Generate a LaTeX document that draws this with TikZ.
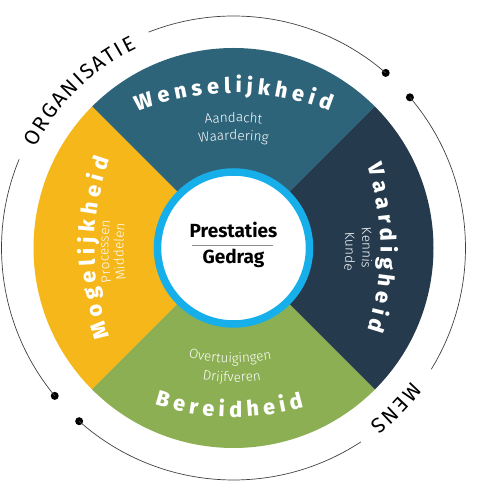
\documentclass[tikz,border=0pt]{standalone}
\usepackage{fontspec}
\setmainfont{Fira Sans}
\newfontfamily\lightfam{Fira Sans Light}
\newfontfamily\heavyfam{Fira Sans ExtraBold}
\usetikzlibrary{decorations.text}
\definecolor{wens-teal}{HTML}{2E6479}
\definecolor{vaard-navy}{HTML}{253B4D}
\definecolor{mogel-yellow}{HTML}{F5B71A}
\definecolor{bereid-green}{HTML}{8BAF52}
\definecolor{ring-cyan}{HTML}{16AFEA}
\newcommand\headingfont{\heavyfam\fontsize{21.5}{24}\selectfont\fontdimen2\font=4.8pt\relax}
\newcommand\subfont{\lightfam\fontsize{13.5}{15}\selectfont}
\newcommand\outerfont{\fontsize{21}{24}\selectfont\fontdimen2\font=2pt\relax}
\tikzset{
    curved/.style 2 args = {decorate, decoration={text along path, text align=center, text color=white, text={|#1|#2}}},
    heading/.style = {curved={\headingfont}{#1}},
    sub-label/.style = {curved={\subfont}{#1}},
    outer-label/.style = {decorate, decoration={text along path, text align=center, text color=black, text={|\outerfont|#1}}},
    ring-arc/.style = {draw=black!75, line width=0.7pt},
    arc-dot/.style = {fill=black, circle, inner sep=0pt, minimum size=8pt},
    core/.style = {draw=ring-cyan, line width=7.5pt, fill=white, circle, minimum size=152pt},
    core-text/.style = {font=\bfseries\fontsize{19}{22}\selectfont, anchor=base, inner sep=0pt},
}

\begin{document}
\begin{tikzpicture}[x=1pt, y=1pt]
\useasboundingbox (-233.5,-252) rectangle (242.5,248);

\fill[wens-teal] (0,0) -- (45:200) arc[start angle=45, end angle=135, radius=200pt] -- cycle;
\fill[mogel-yellow] (0,0) -- (135:200) arc[start angle=135, end angle=225, radius=200pt] -- cycle;
\fill[bereid-green] (0,0) -- (225:200) arc[start angle=225, end angle=315, radius=200pt] -- cycle;
\fill[vaard-navy] (0,0) -- (-45:200) arc[start angle=-45, end angle=45, radius=200pt] -- cycle;

\node[core] (core) at (0,0) {};
\node[core-text] (prestaties) at (0,10) {Prestaties};
\node[core-text] (gedrag) at (0,-16) {Gedrag};
\draw[black!45, line width=0.8pt] (-41.5,2.3) -- (39.5,2.3);

\path[heading={W e n s e l i j k h e i d}, shift={(0,-105)}] (120:260) arc[start angle=120, end angle=60, radius=260pt];
\path[heading={V a a r d i g h e i d}, shift={(-113,0)}] (30:260) arc[start angle=30, end angle=-30, radius=260pt];
\path[heading={M o g e l i j k h e i d}, shift={(121,0)}] (210:260) arc[start angle=210, end angle=150, radius=260pt];
\path[heading={B e r e i d h e i d}, shift={(0,91)}] (239:260) arc[start angle=239, end angle=299, radius=260pt];

\path[sub-label={Aandacht}, shift={(0,-74)}] (110:200) arc[start angle=110, end angle=70, radius=200pt];
\path[sub-label={Waardering}, shift={(0,-92)}] (110:200) arc[start angle=110, end angle=70, radius=200pt];
\path[sub-label={Kennis}, shift={(-71,0)}] (20:200) arc[start angle=20, end angle=-20, radius=200pt];
\path[sub-label={Kunde}, shift={(-88,0)}] (19:200) arc[start angle=19, end angle=-21, radius=200pt];
\path[sub-label={Processen}, shift={(75,0)}] (201:200) arc[start angle=201, end angle=161, radius=200pt];
\path[sub-label={Middelen}, shift={(90,0)}] (201:200) arc[start angle=201, end angle=161, radius=200pt];
\path[sub-label={Overtuigingen}, shift={(0,85)}] (249:200) arc[start angle=249, end angle=289, radius=200pt];
\path[sub-label={Drijfveren}, shift={(0,66)}] (249.5:200) arc[start angle=249.5, end angle=289.5, radius=200pt];

\path[outer-label={O R G A N I S A T I E}] (159.5:222) arc[start angle=159.5, end angle=109.5, radius=222pt];
\path[outer-label={M E N S}] (335.5:222) arc[start angle=335.5, end angle=295.5, radius=222pt];

\node[arc-dot] (dot-ne-a) at (49:232) {};
\node[arc-dot] (dot-ne-b) at (40.5:232) {};
\node[arc-dot] (dot-sw-a) at (228.3:232) {};
\node[arc-dot] (dot-sw-b) at (219.6:232) {};
\draw[ring-arc] (dot-ne-a.center) arc[start angle=49, end angle=111.5, radius=232pt];
\draw[ring-arc] (dot-ne-b.center) arc[start angle=40.5, end angle=-31.5, radius=232pt];
\draw[ring-arc] (dot-sw-a.center) arc[start angle=228.3, end angle=303.3, radius=232pt];
\draw[ring-arc] (dot-sw-b.center) arc[start angle=219.6, end angle=157.5, radius=232pt];
\end{tikzpicture}
\end{document}
